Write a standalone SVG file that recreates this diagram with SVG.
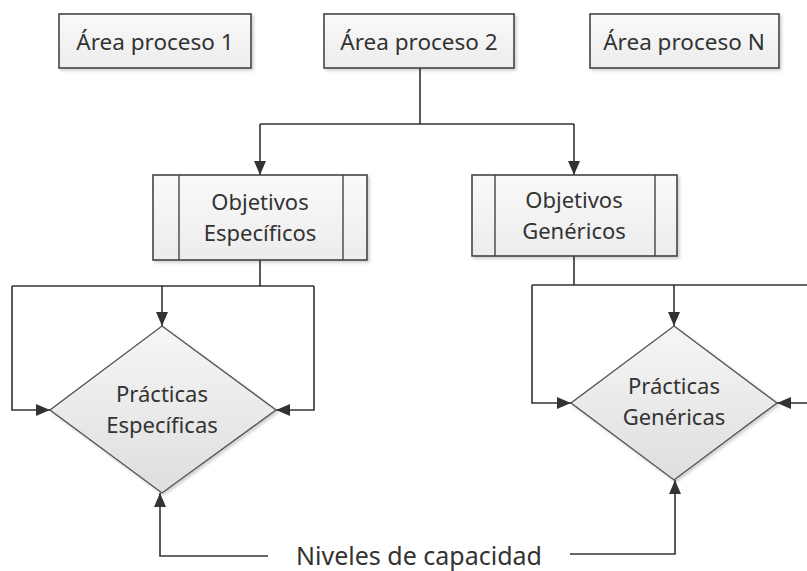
<svg xmlns="http://www.w3.org/2000/svg" width="807" height="571" viewBox="0 0 807 571">
<defs>
  <linearGradient id="gbox" x1="0" y1="0" x2="0" y2="1">
    <stop offset="0" stop-color="#fafafa"/>
    <stop offset="1" stop-color="#ececec"/>
  </linearGradient>
  <linearGradient id="gdia" x1="0" y1="0" x2="0" y2="1">
    <stop offset="0" stop-color="#f6f6f6"/>
    <stop offset="1" stop-color="#dedede"/>
  </linearGradient>
  <filter id="sh" x="-10%" y="-10%" width="130%" height="130%">
    <feDropShadow dx="2" dy="2" stdDeviation="1.5" flood-color="#000" flood-opacity="0.18"/>
  </filter>
  <marker id="arr" viewBox="0 0 14 12" refX="14" refY="6" markerWidth="14" markerHeight="12" markerUnits="userSpaceOnUse" orient="auto">
    <path d="M0,0 L14,6 L0,12 Z" fill="#333"/>
  </marker>
  <style>
    .box{fill:url(#gbox);stroke:#444;stroke-width:1.6;filter:url(#sh)}
    .dia{fill:url(#gdia);stroke:#555;stroke-width:1.4;filter:url(#sh)}
    .in{stroke:#444;stroke-width:1.4;fill:none}
    .c{stroke:#333;stroke-width:1.6;fill:none}
    .ca{stroke:#333;stroke-width:1.6;fill:none;marker-end:url(#arr)}
    .t{font-family:"Noto Sans","Open Sans","DejaVu Sans",sans-serif;fill:#333;text-anchor:middle}
  </style>
</defs>
<rect width="807" height="571" fill="#fff"/>

<g id="connectors">
  <path class="c" d="M420,68 V124 M260,124 H574"/>
  <path class="ca" d="M260,124 V175"/>
  <path class="ca" d="M574,124 V175"/>
  <path class="c" d="M260,260 V286 M12,286 H314"/>
  <path class="ca" d="M162,286 V326"/>
  <path class="ca" d="M12,286 V410 H50"/>
  <path class="ca" d="M314,286 V410 H276"/>
  <path class="c" d="M574,256 V285 M532,285 H807"/>
  <path class="ca" d="M674,285 V326"/>
  <path class="ca" d="M532,285 V403 H571"/>
  <path class="ca" d="M807,403 H777"/>
  <path class="ca" d="M268,556 H160 V493"/>
  <path class="ca" d="M570,554 H675 V480"/>
</g>

<g id="area1">
  <rect class="box" x="59" y="14" width="192" height="54"/>
  <text class="t" x="155" y="50" font-size="22.5">Área proceso 1</text>
</g>
<g id="area2">
  <rect class="box" x="324" y="14" width="190" height="54"/>
  <text class="t" x="419" y="50" font-size="22.5">Área proceso 2</text>
</g>
<g id="areaN">
  <rect class="box" x="590" y="14" width="189" height="54"/>
  <text class="t" x="684" y="50" font-size="22.5">Área proceso N</text>
</g>

<g id="objEsp">
  <rect class="box" x="153" y="175" width="214" height="85"/>
  <path class="in" d="M179,175 V260 M343,175 V260"/>
  <text class="t" x="260" y="210" font-size="22">Objetivos</text>
  <text class="t" x="260" y="241" font-size="22">Específicos</text>
</g>
<g id="objGen">
  <rect class="box" x="472" y="175" width="205" height="81"/>
  <path class="in" d="M495,175 V256 M655,175 V256"/>
  <text class="t" x="574" y="208" font-size="22">Objetivos</text>
  <text class="t" x="574" y="239" font-size="22">Genéricos</text>
</g>

<g id="pracEsp">
  <polygon class="dia" points="162,326 276,410 162,493 50,410"/>
  <text class="t" x="162" y="402" font-size="22">Prácticas</text>
  <text class="t" x="162" y="433" font-size="22">Específicas</text>
</g>
<g id="pracGen">
  <polygon class="dia" points="674,326 777,403 674,480 571,403"/>
  <text class="t" x="674" y="394" font-size="22">Prácticas</text>
  <text class="t" x="674" y="425" font-size="22">Genéricas</text>
</g>

<g id="niveles">
  <text class="t" x="419" y="565" font-size="25">Niveles de capacidad</text>
</g>
</svg>
